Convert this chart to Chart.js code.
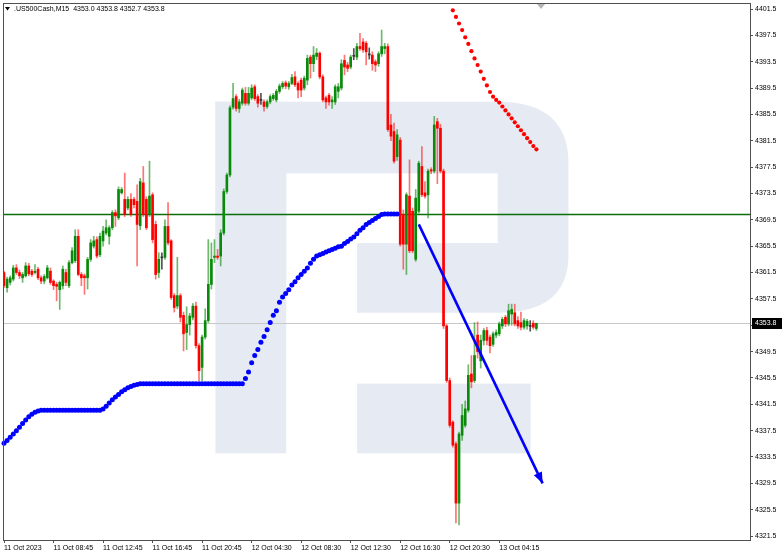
<!DOCTYPE html>
<html><head><meta charset="utf-8">
<script src="https://cdn.jsdelivr.net/npm/chart.js@4.4.0/dist/chart.umd.min.js"></script>
<style>html,body{margin:0;padding:0;background:#fff;}#wrap{width:782px;height:556px;}</style>
</head><body><div id="wrap"><canvas id="c" width="782" height="556"></canvas></div>
<script>
const symbolTitle = '.US500Cash,M15';
const tickLabels = ['11 Oct 2023','11 Oct 08:45','11 Oct 12:45','11 Oct 16:45','11 Oct 20:45','12 Oct 04:30','12 Oct 08:30','12 Oct 12:30','12 Oct 16:30','12 Oct 20:30','13 Oct 04:15'];
const barsPerTick = 16;
const slotCount = 242;
const categories = Array.from({length: slotCount}, (_, i) => String(i));
const yTicks = [4401.5,4397.5,4393.5,4389.5,4385.5,4381.5,4377.5,4373.5,4369.5,4365.5,4361.5,4357.5,4353.5,4349.5,4345.5,4341.5,4337.5,4333.5,4329.5,4325.5,4321.5];
const yMin = 4320.9, yMax = 4402.26;

const open = [4361.5,4359.2,4360.0,4360.5,4362.2,4361.5,4360.7,4361.0,4362.5,4361.7,4361.5,4362.0,4360.7,4360.2,4360.7,4361.7,4360.2,4359.7,4358.9,4359.5,
4361.5,4359.5,4363.0,4363.3,4367.0,4361.2,4361.0,4360.7,4363.5,4365.5,4366.5,4364.2,4366.3,4367.5,4367.0,4368.3,4370.6,4369.8,4373.6,4372.6,
4371.3,4372.6,4372.6,4372.3,4368.6,4375.1,4372.6,4370.3,4373.3,4368.8,4361.5,4363.8,4363.8,4368.5,4366.3,4358.0,4356.4,4358.0,4355.0,4352.4,
4353.6,4354.7,4356.4,4350.4,4347.1,4351.7,4354.2,4359.7,4363.8,4364.0,4364.0,4367.5,4373.8,4376.3,4386.6,4388.2,4386.4,4387.2,4388.7,4387.2,
4388.0,4389.7,4388.2,4387.7,4387.4,4386.7,4387.4,4387.9,4387.7,4389.0,4389.7,4390.3,4389.7,4390.2,4391.2,4390.2,4390.7,4389.5,4390.7,4394.2,
4393.2,4394.3,4394.8,4391.2,4388.0,4388.4,4387.4,4387.4,4389.0,4389.5,4393.7,4393.0,4392.7,4394.4,4394.2,4395.8,4396.5,4396.3,4394.6,4394.5,
4393.5,4393.2,4394.7,4395.5,4395.8,4383.9,4382.9,4379.1,4381.6,4370.3,4365.8,4373.1,4370.8,4363.5,4370.8,4377.6,4373.6,4373.3,4377.1,4376.9,
4384.4,4383.4,4376.9,4353.4,4345.1,4338.8,4335.5,4326.5,4336.8,4338.3,4340.6,4346.1,4345.1,4352.0,4348.1,4351.2,4352.7,4351.7,4350.6,4352.0,
4352.2,4353.4,4354.7,4353.7,4355.2,4355.4,4354.2,4353.9,4353.2,4353.4,4353.4,4353.8,4353.0];
const high = [4361.7,4360.8,4361.0,4362.6,4362.7,4361.9,4361.5,4363.0,4362.9,4362.0,4362.7,4362.3,4361.0,4361.2,4362.6,4362.2,4360.4,4360.0,4360.2,4362.5,
4362.0,4363.3,4365.3,4368.0,4368.0,4361.5,4361.3,4363.8,4366.5,4367.0,4366.9,4367.5,4368.5,4369.5,4368.6,4370.9,4371.0,4374.5,4374.4,4376.6,
4373.0,4373.5,4372.9,4374.8,4375.8,4377.6,4373.0,4378.4,4373.6,4369.3,4364.5,4364.5,4369.5,4372.1,4366.5,4358.3,4363.8,4358.3,4355.5,4356.3,
4355.3,4356.8,4357.0,4350.7,4352.0,4356.0,4366.5,4366.0,4366.5,4365.0,4368.0,4374.2,4376.6,4386.8,4390.2,4388.5,4387.8,4389.5,4389.6,4389.6,
4390.0,4390.0,4388.5,4388.7,4387.7,4387.7,4388.5,4388.7,4389.3,4390.1,4390.5,4390.6,4390.5,4391.6,4392.0,4390.5,4391.0,4391.3,4394.5,4394.5,
4395.8,4395.5,4395.0,4391.5,4388.3,4388.7,4388.2,4390.0,4390.2,4393.8,4394.5,4393.4,4394.5,4395.5,4396.3,4397.8,4397.0,4396.6,4395.6,4395.0,
4393.8,4395.0,4398.3,4396.3,4396.2,4385.5,4384.2,4383.2,4382.0,4371.0,4373.6,4378.6,4371.3,4374.1,4378.4,4380.6,4375.3,4377.2,4377.4,4385.2,
4384.9,4384.0,4377.2,4353.6,4345.5,4339.0,4335.8,4337.3,4341.5,4342.0,4347.5,4348.9,4353.9,4354.0,4352.0,4353.0,4353.2,4352.0,4352.5,4352.8,
4354.0,4354.7,4355.0,4356.7,4356.7,4356.7,4354.8,4355.5,4354.5,4354.4,4354.2,4354.2,4353.8];
const low = [4359.2,4358.5,4359.6,4360.2,4361.2,4360.6,4360.0,4360.8,4361.0,4360.9,4361.3,4360.4,4359.8,4359.8,4360.5,4359.7,4358.9,4357.2,4355.9,4359.0,
4359.5,4359.2,4362.8,4363.0,4361.0,4359.5,4358.2,4359.0,4363.2,4365.2,4363.7,4363.9,4365.5,4367.2,4365.8,4368.0,4368.5,4369.5,4373.4,4370.0,
4371.0,4370.0,4371.3,4362.5,4368.0,4370.0,4368.0,4370.0,4366.0,4360.5,4360.7,4362.0,4363.5,4365.7,4357.4,4355.5,4356.0,4354.0,4349.6,4349.8,
4352.0,4354.3,4350.0,4345.1,4345.1,4351.4,4353.9,4359.0,4363.0,4363.5,4362.5,4367.2,4373.5,4376.0,4386.3,4386.0,4385.8,4386.9,4386.9,4386.9,
4387.7,4387.6,4386.6,4387.0,4386.0,4386.4,4387.1,4387.6,4387.4,4388.7,4389.4,4389.4,4389.3,4390.0,4389.7,4388.0,4388.2,4389.2,4390.0,4391.0,
4392.0,4393.8,4390.9,4387.4,4386.4,4386.9,4386.4,4387.0,4388.0,4389.2,4391.5,4392.0,4392.4,4393.8,4393.8,4395.2,4394.9,4393.0,4393.9,4392.2,
4392.0,4392.8,4394.3,4394.7,4382.9,4381.5,4378.1,4378.5,4365.5,4362.0,4361.2,4364.5,4364.5,4363.2,4370.5,4373.0,4372.8,4369.8,4376.5,4376.6,
4375.0,4376.6,4353.0,4344.8,4338.0,4335.0,4323.5,4323.2,4336.0,4338.0,4340.3,4344.0,4344.8,4348.5,4347.0,4350.5,4350.5,4349.3,4350.3,4351.6,
4351.9,4353.0,4353.3,4353.4,4353.5,4353.4,4353.0,4352.8,4352.9,4352.9,4352.6,4352.9,4352.7];
const close = [4359.5,4360.5,4360.7,4362.2,4361.5,4361.0,4361.2,4362.5,4361.3,4361.2,4361.7,4360.7,4360.2,4360.9,4362.2,4360.0,4359.5,4359.4,4360.0,4362.0,
4360.0,4363.0,4364.8,4367.0,4361.2,4360.7,4360.7,4363.5,4366.0,4366.3,4364.0,4367.0,4367.8,4368.3,4368.3,4370.6,4370.1,4374.1,4374.1,4370.3,
4372.6,4370.3,4371.8,4368.8,4375.3,4370.3,4368.3,4373.1,4366.5,4361.2,4363.5,4363.8,4368.5,4366.0,4357.7,4356.2,4358.0,4354.7,4352.2,4353.6,
4354.9,4356.4,4350.4,4346.6,4351.7,4354.2,4359.7,4363.5,4364.0,4363.8,4367.5,4373.8,4376.3,4386.5,4387.9,4386.4,4387.4,4389.2,4387.2,4388.7,
4389.5,4387.9,4387.2,4387.7,4386.7,4387.4,4388.2,4388.4,4389.0,4389.8,4390.2,4389.8,4390.2,4391.1,4390.0,4389.2,4389.2,4391.0,4394.0,4393.2,
4394.5,4394.8,4391.2,4387.7,4387.4,4387.4,4387.7,4389.7,4389.7,4393.2,4392.7,4392.5,4394.2,4394.4,4395.8,4395.5,4395.3,4395.0,4394.6,4393.2,
4393.0,4394.7,4395.8,4395.8,4383.2,4382.2,4378.4,4382.4,4365.8,4365.8,4373.3,4364.8,4364.8,4372.8,4378.1,4373.3,4373.1,4376.9,4376.9,4383.9,
4383.4,4376.9,4353.4,4345.1,4338.3,4335.3,4326.5,4337.0,4339.8,4340.8,4345.9,4344.9,4348.9,4349.5,4351.2,4352.7,4351.2,4350.4,4352.2,4352.4,
4353.7,4354.4,4353.7,4355.7,4355.9,4353.7,4353.4,4353.2,4354.2,4354.1,4353.4,4353.2,4353.8];

const blueDots = [4335.6,4336.0,4336.5,4337.0,4337.5,4338.0,4338.6,4339.1,4339.6,4340.0,4340.3,4340.5,4340.6,4340.6,4340.6,4340.6,4340.6,4340.6,4340.6,4340.6,
4340.6,4340.6,4340.6,4340.6,4340.6,4340.6,4340.6,4340.6,4340.6,4340.6,4340.6,4340.6,4340.8,4341.2,4341.7,4342.2,4342.6,4343.0,4343.4,4343.7,
4344.0,4344.2,4344.4,4344.5,4344.6,4344.6,4344.6,4344.6,4344.6,4344.6,4344.6,4344.6,4344.6,4344.6,4344.6,4344.6,4344.6,4344.6,4344.6,4344.6,
4344.6,4344.6,4344.6,4344.6,4344.6,4344.6,4344.6,4344.6,4344.6,4344.6,4344.6,4344.6,4344.6,4344.6,4344.6,4344.6,4344.6,4344.6,4345.4,4346.4,
4347.8,4348.9,4349.8,4350.9,4351.8,4352.8,4353.9,4355.0,4355.7,4357.0,4357.8,4358.3,4358.9,4359.6,4360.1,4360.7,4361.2,4361.7,4362.2,4362.9,
4363.5,4364.0,4364.2,4364.4,4364.6,4364.8,4365.0,4365.2,4365.4,4365.5,4365.9,4366.2,4366.6,4366.9,4367.4,4367.9,4368.3,4368.8,4369.1,4369.4,
4369.7,4370.0,4370.3,4370.4,4370.4,4370.4,4370.4,4370.4];
const redDotStart = 145;
const redDots = [4401.3,4400.3,4399.3,4398.3,4397.2,4396.2,4395.1,4394.0,4393.0,4392.0,4390.9,4389.9,4388.9,4388.2,4387.7,4387.3,4386.7,4386.1,4385.5,4384.9,
4384.3,4383.7,4383.1,4382.5,4381.9,4381.3,4380.7,4380.2];
const arrowFrom = {index: 134, value: 4368.8};
const arrowTo = {index: 174, value: 4329.5};
const levelLine = 4370.3;

const lastI = close.length - 1;
const lastPrice = close[lastI];

const GREEN = '#0a8a0a', RED = '#ff0000', DOJI = '#333333';
const dir = close.map((c, i) => Math.abs(c - open[i]) < 0.05 ? 0 : (c > open[i] ? 1 : -1));
const bodyData = close.map((c, i) => dir[i] === 0 ? [c - 0.08, c + 0.08] : [open[i], c]);
const wickData = close.map((c, i) => [low[i], high[i]]);
const redData = categories.map((_, i) => (i >= redDotStart && i - redDotStart < redDots.length) ? redDots[i - redDotStart] : null);
const arrowData = categories.map((_, i) => i === arrowFrom.index ? arrowFrom.value : (i === arrowTo.index ? arrowTo.value : null));

const FONT = {family: 'Liberation Sans', size: 7};

const decor = {
  id: 'decor',
  beforeDatasetsDraw(chart) {
    const {ctx, chartArea: a, scales: {y}} = chart;
    const W = a.right - a.left, H = a.bottom - a.top;
    const X = f => a.left + f * W, Y = f => a.top + f * H;
    ctx.save();
    ctx.beginPath(); ctx.rect(a.left, a.top, W, H); ctx.clip();
    const wm = '#e6ebf3';
    const bx0 = X(0.2834), bx1 = X(0.7567), by0 = Y(0.1822), by1 = Y(0.5762);
    ctx.fillStyle = wm;
    ctx.beginPath();
    ctx.moveTo(bx0, by0);
    ctx.lineTo(bx1 - 70, by0);
    ctx.quadraticCurveTo(bx1, by0, bx1, by0 + 62);
    ctx.lineTo(bx1, by1 - 58);
    ctx.quadraticCurveTo(bx1, by1, bx1 - 70, by1);
    ctx.lineTo(bx0, by1);
    ctx.closePath(); ctx.fill();
    ctx.fillStyle = '#ffffff';
    ctx.fillRect(X(0.3783), Y(0.3160), X(0.6618) - X(0.3783), Y(0.4461) - Y(0.3160));
    ctx.fillRect(X(0.3783), Y(0.4461) - 1, X(0.4733) - X(0.3783), by1 - Y(0.4461) + 2);
    ctx.fillStyle = wm;
    ctx.fillRect(bx0, by0, X(0.3783) - bx0, Y(0.8383) - by0);
    ctx.fillRect(X(0.4733), Y(0.7082), X(0.7059) - X(0.4733), Y(0.8383) - Y(0.7082));
    // current price line
    const yp = Math.round(y.getPixelForValue(lastPrice)) + 0.5;
    ctx.strokeStyle = '#c8c8c8'; ctx.lineWidth = 1;
    ctx.beginPath(); ctx.moveTo(a.left, yp); ctx.lineTo(a.right, yp); ctx.stroke();
    // horizontal level
    const yg = y.getPixelForValue(levelLine);
    ctx.strokeStyle = '#0b6e0b'; ctx.lineWidth = 1.6;
    ctx.beginPath(); ctx.moveTo(a.left, yg); ctx.lineTo(a.right, yg); ctx.stroke();
    ctx.restore();
  },
  afterDatasetsDraw(chart) {
    const {ctx} = chart;
    const meta = chart.getDatasetMeta(0);
    const p0 = meta.data[arrowFrom.index], p1 = meta.data[arrowTo.index];
    if (!p0 || !p1) return;
    const ang = Math.atan2(p1.y - p0.y, p1.x - p0.x);
    const L = 11, Wd = 4.5;
    const tx = p1.x, ty = p1.y;
    const bx = tx - L * Math.cos(ang), by = ty - L * Math.sin(ang);
    ctx.save();
    ctx.fillStyle = '#0000ff';
    ctx.beginPath();
    ctx.moveTo(tx, ty);
    ctx.lineTo(bx + Wd * Math.sin(ang), by - Wd * Math.cos(ang));
    ctx.lineTo(bx - Wd * Math.sin(ang), by + Wd * Math.cos(ang));
    ctx.closePath(); ctx.fill();
    ctx.restore();
  },
  afterDraw(chart) {
    const {ctx, chartArea: a, scales: {x, y}} = chart;
    ctx.save();
    ctx.strokeStyle = '#505050'; ctx.lineWidth = 1;
    ctx.strokeRect(Math.round(a.left) - 0.5, Math.round(a.top) - 0.5, Math.round(a.right - a.left) + 1, Math.round(a.bottom - a.top) + 1);
    // title
    ctx.fillStyle = '#000';
    ctx.beginPath(); ctx.moveTo(5, 7); ctx.lineTo(10, 7); ctx.lineTo(7.5, 10.5); ctx.closePath(); ctx.fill();
    ctx.font = '7px "Liberation Sans"';
    ctx.textBaseline = 'middle'; ctx.textAlign = 'left';
    ctx.fillText(symbolTitle + '  ' + [open[lastI], high[lastI], low[lastI], close[lastI]].map(v => v.toFixed(1)).join(' '), 14, 9);
    // price label
    const yp = Math.round(y.getPixelForValue(lastPrice));
    ctx.fillStyle = '#000';
    ctx.fillRect(a.right + 2, yp - 5, chart.width - a.right - 2, 11);
    ctx.fillStyle = '#fff';
    ctx.fillText(lastPrice.toFixed(1), a.right + 5, yp + 0.5);
    // shift marker
    const sx = x.getPixelForValue(lastI + 1.5);
    ctx.fillStyle = '#b4b4b4';
    ctx.beginPath(); ctx.moveTo(sx - 4, a.top); ctx.lineTo(sx + 4, a.top); ctx.lineTo(sx, a.top + 5); ctx.closePath(); ctx.fill();
    ctx.restore();
  }
};

new Chart(document.getElementById('c'), {
  type: 'bar',
  data: {
    labels: categories,
    datasets: [
      {type: 'line', data: arrowData, spanGaps: true, borderColor: '#0000ff', borderWidth: 2.6, pointRadius: 0, order: 1},
      {type: 'line', data: redData, showLine: false, pointRadius: 2.1, pointBackgroundColor: '#ff0000', pointBorderWidth: 0, order: 2},
      {type: 'line', data: blueDots, showLine: false, pointRadius: 2.5, pointBackgroundColor: '#0000ff', pointBorderWidth: 0, order: 3},
      {type: 'bar', data: bodyData, barThickness: 2, grouped: false, borderWidth: 0, order: 4,
        backgroundColor: ctx => dir[ctx.dataIndex] > 0 ? GREEN : (dir[ctx.dataIndex] < 0 ? RED : DOJI)},
      {type: 'bar', data: wickData, barThickness: 1, grouped: false, borderWidth: 0, order: 5,
        backgroundColor: ctx => dir[ctx.dataIndex] > 0 ? 'rgba(10,138,10,0.6)' : (dir[ctx.dataIndex] < 0 ? 'rgba(255,0,0,0.55)' : 'rgba(40,40,40,0.8)')}
    ]
  },
  options: {
    responsive: false, maintainAspectRatio: false, animation: false, devicePixelRatio: 1, events: [],
    layout: {padding: {left: 2, top: 2, right: 0, bottom: 0}},
    plugins: {legend: {display: false}, tooltip: {enabled: false}},
    scales: {
      x: {
        type: 'category', offset: false,
        grid: {display: true, offset: false, drawOnChartArea: false, drawTicks: true, tickLength: 3, color: '#505050'},
        border: {display: false},
        afterBuildTicks: s => { s.ticks = tickLabels.map((_, k) => ({value: k * barsPerTick})); },
        ticks: {autoSkip: false, maxRotation: 0, minRotation: 0, align: 'start', padding: 1, color: '#000', font: FONT,
          callback: v => tickLabels[Math.round(v / barsPerTick)]},
        afterFit: s => { s.height = 16; s.paddingLeft = 0; s.paddingRight = 0; }
      },
      y: {
        position: 'right', min: yMin, max: yMax,
        grid: {display: true, drawOnChartArea: false, drawTicks: true, tickLength: 3, color: '#505050'},
        border: {display: false},
        afterBuildTicks: s => { s.ticks = yTicks.map(v => ({value: v})); },
        ticks: {padding: 2, color: '#000', font: FONT, callback: v => Number(v).toFixed(1)},
        afterFit: s => { s.width = 32; s.paddingTop = 0; s.paddingBottom = 0; }
      }
    }
  },
  plugins: [decor]
});
</script></body></html>
